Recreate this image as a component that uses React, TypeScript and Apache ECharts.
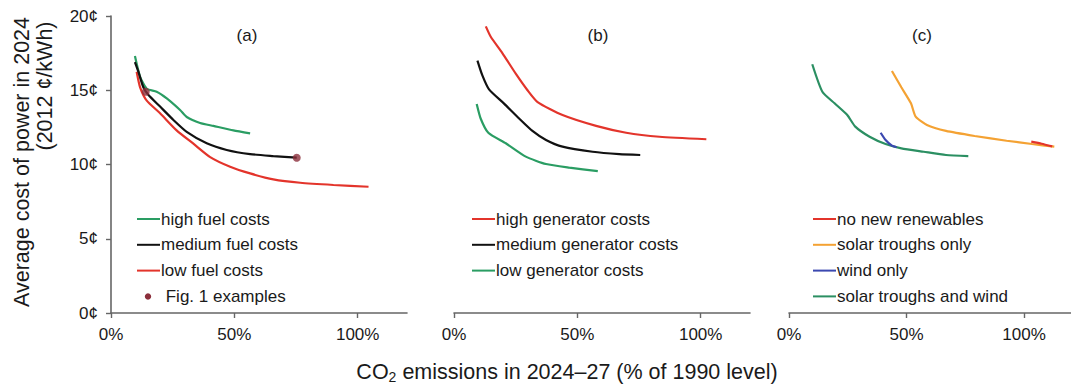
import React, { useEffect, useRef } from "react";
import * as echarts from "echarts";

// Panel (a): cost vs CO2 under different fuel prices  [% of 1990 emissions, ¢/kWh]
const fuelHigh = [[9.7, 17.3], [11.8, 15.9], [14.5, 15.1], [18.5, 14.9], [22.6, 14.45], [28, 13.67], [30.7, 13.2], [36.1, 12.8], [41.5, 12.6], [49.6, 12.3], [56.4, 12.1]];
const fuelMedium = [[9.7, 16.9], [11.1, 16.25], [13.1, 15.2], [15.1, 14.7], [19.9, 13.9], [25.3, 13.0], [30.7, 12.2], [38.8, 11.43], [46.9, 10.98], [56.4, 10.7], [65.8, 10.57], [75.3, 10.46]];
const fuelLow = [[10.4, 16.25], [11.8, 15.2], [14.5, 14.3], [19.9, 13.45], [26.6, 12.3], [33.4, 11.4], [40.2, 10.5], [48.3, 9.85], [56.4, 9.4], [65.8, 9.0], [76.7, 8.77], [90.2, 8.62], [104.4, 8.5]];
const fig1Examples = [[14.1, 14.9], [75.3, 10.46]];

// Panel (b): different generator capital costs
const genHigh = [[12.9, 19.3], [14.9, 18.6], [19.6, 17.5], [25.1, 16.1], [29.8, 15.0], [33.9, 14.2], [44, 13.33], [57.6, 12.6], [69.8, 12.14], [83.3, 11.87], [102.3, 11.7]];
const genMedium = [[9.5, 17.0], [11.5, 16.0], [14.2, 15.06], [20.3, 14.1], [26.4, 13.1], [31.8, 12.26], [37.3, 11.65], [44, 11.2], [56.2, 10.86], [67, 10.7], [75.5, 10.64]];
const genLow = [[9.2, 14.07], [10.8, 13.1], [13.9, 12.14], [21, 11.43], [29.1, 10.53], [37.3, 10.03], [46.7, 9.79], [58.3, 9.56]];

// Panel (c): which renewable technologies are allowed
const noRenewables = [[103.1, 11.54], [107.5, 11.4], [112, 11.22]];
const solarOnly = [[43.8, 16.3], [47.8, 15.2], [51.9, 14.12], [53.9, 13.22], [58.7, 12.66], [66.8, 12.26], [79, 11.92], [92.6, 11.6], [103.4, 11.38], [112.9, 11.2]];
const windOnly = [[39, 12.14], [41.1, 11.65], [43.8, 11.27], [45.8, 11.16]];
const solarAndWind = [[9.9, 16.75], [14.2, 14.9], [19.4, 14.12], [24.8, 13.33], [28.2, 12.55], [34.3, 11.87], [41.1, 11.38], [47.8, 11.09], [57.3, 10.86], [66.8, 10.64], [76.3, 10.57]];

const panelTitles = ["(a)", "(b)", "(c)"];
const fuelNames = ["high fuel costs", "medium fuel costs", "low fuel costs", "Fig. 1 examples"];
const genNames = ["high generator costs", "medium generator costs", "low generator costs"];
const renewNames = ["no new renewables", "solar troughs only", "wind only", "solar troughs and wind"];
const xTickValues = [0, 50, 100];
const yTitleLines = ["Average cost of power in 2024", "(2012 ¢/kWh)"];
const xTitle = "CO{sub|2} emissions in 2024–27 (% of 1990 level)";

const RED = "#e3342b";
const BLACK = "#111111";
const GREEN = "#2a9d63";
const GREEN_C = "#2b8f62";
const ORANGE = "#f4a233";
const BLUE = "#3b48b0";
const DOT = "#8c2f3c";

const FONT = "'Liberation Sans', Arial, Helvetica, sans-serif";
const AXIS_COLOR = "#666666";
const TEXT_COLOR = "#1a1a1a";

const gridLefts = [111, 454, 789];
const titleXs = [247, 598, 922];
const legendXs = [137, 472, 813];

export default function App() {
  const ref = useRef<HTMLDivElement>(null);

  useEffect(() => {
    document.body.style.margin = "0";
    const chart = echarts.init(ref.current!, null, { renderer: "svg" });

    const grids = gridLefts.map((left) => ({ left, top: 16, width: 296, height: 297 }));

    const xAxes = gridLefts.map((_, i) => ({
      type: "value",
      gridIndex: i,
      min: 0,
      max: 120,
      interval: 50,
      axisLine: { show: true, lineStyle: { color: AXIS_COLOR, width: 1.6 } },
      axisTick: { show: true, length: 5, customValues: xTickValues, lineStyle: { color: AXIS_COLOR, width: 1.4 } },
      axisLabel: {
        customValues: xTickValues,
        formatter: "{value}%",
        fontSize: 17,
        color: TEXT_COLOR,
        fontFamily: FONT,
        margin: 13,
      },
      splitLine: { show: false },
    }));

    const yAxes = gridLefts.map((_, i) => ({
      type: "value",
      gridIndex: i,
      min: 0,
      max: 20,
      interval: 5,
      show: i === 0,
      axisLine: { show: true, lineStyle: { color: AXIS_COLOR, width: 1.6 } },
      axisTick: { show: true, length: 5, lineStyle: { color: AXIS_COLOR, width: 1.4 } },
      axisLabel: {
        formatter: "{value}¢",
        fontSize: 17,
        color: TEXT_COLOR,
        fontFamily: FONT,
        margin: 13,
      },
      splitLine: { show: false },
    }));

    const line = (name: string, data: number[][], color: string, axis: number, z = 2) => ({
      name,
      type: "line",
      data,
      xAxisIndex: axis,
      yAxisIndex: axis,
      showSymbol: false,
      smooth: 0.2,
      z,
      lineStyle: { color, width: 2.2 },
      itemStyle: { color },
    });

    const series: any[] = [
      line(fuelNames[0], fuelHigh, GREEN, 0),
      line(fuelNames[2], fuelLow, RED, 0),
      line(fuelNames[1], fuelMedium, BLACK, 0),
      {
        name: fuelNames[3],
        type: "scatter",
        data: fig1Examples,
        xAxisIndex: 0,
        yAxisIndex: 0,
        symbolSize: 8,
        z: 5,
        itemStyle: { color: DOT },
      },
      line(genNames[0], genHigh, RED, 1),
      line(genNames[1], genMedium, BLACK, 1),
      line(genNames[2], genLow, GREEN, 1),
      line(renewNames[3], solarAndWind, GREEN_C, 2),
      line(renewNames[2], windOnly, BLUE, 2, 3),
      line(renewNames[1], solarOnly, ORANGE, 2),
      line(renewNames[0], noRenewables, RED, 2, 3),
    ];

    // legend blocks drawn as short line swatches followed by labels
    const legendBlock = (x: number, names: string[], colors: string[], dotIndex = -1) => {
      const items: any[] = [];
      names.forEach((name, i) => {
        const y = 219 + i * 25.8;
        if (i === dotIndex) {
          items.push({ type: "circle", shape: { cx: x + 11, cy: y, r: 3.2 }, style: { fill: colors[i] } });
          items.push({
            type: "text",
            x: x + 24,
            y,
            style: { text: " " + name, fontSize: 17, fontFamily: FONT, fill: TEXT_COLOR, align: "left", verticalAlign: "middle" },
          });
        } else {
          items.push({ type: "line", shape: { x1: x, y1: y, x2: x + 23, y2: y }, style: { stroke: colors[i], lineWidth: 2 } });
          items.push({
            type: "text",
            x: x + 24,
            y,
            style: { text: name, fontSize: 17, fontFamily: FONT, fill: TEXT_COLOR, align: "left", verticalAlign: "middle" },
          });
        }
      });
      return items;
    };

    const graphic: any[] = [
      ...panelTitles.map((t, i) => ({
        type: "text",
        x: titleXs[i],
        y: 35,
        style: { text: t, fontSize: 17, fontFamily: FONT, fill: TEXT_COLOR, align: "center", verticalAlign: "middle" },
      })),
      ...legendBlock(legendXs[0], fuelNames, [GREEN, BLACK, RED, DOT], 3),
      ...legendBlock(legendXs[1], genNames, [RED, BLACK, GREEN]),
      ...legendBlock(legendXs[2], renewNames, [RED, ORANGE, BLUE, GREEN_C]),
      {
        type: "text",
        x: 22,
        y: 162,
        rotation: Math.PI / 2,
        style: { text: yTitleLines[0], fontSize: 21.5, fontFamily: FONT, fill: TEXT_COLOR, align: "center", verticalAlign: "middle" },
      },
      {
        type: "text",
        x: 45,
        y: 86,
        rotation: Math.PI / 2,
        style: { text: yTitleLines[1], fontSize: 21.5, fontFamily: FONT, fill: TEXT_COLOR, align: "center", verticalAlign: "middle" },
      },
      {
        type: "text",
        x: 567,
        y: 372,
        style: {
          text: xTitle,
          fontSize: 21.5,
          fontFamily: FONT,
          fill: TEXT_COLOR,
          align: "center",
          verticalAlign: "middle",
          rich: { sub: { fontSize: 14, fontFamily: FONT, fill: TEXT_COLOR, padding: [10, 0, 0, 0] } },
        },
      },
    ];

    chart.setOption({
      animation: false,
      backgroundColor: "#ffffff",
      grid: grids,
      xAxis: xAxes,
      yAxis: yAxes,
      series,
      graphic,
    });

    return () => chart.dispose();
  }, []);

  return <div ref={ref} style={{ width: 1071, height: 385 }} />;
}
